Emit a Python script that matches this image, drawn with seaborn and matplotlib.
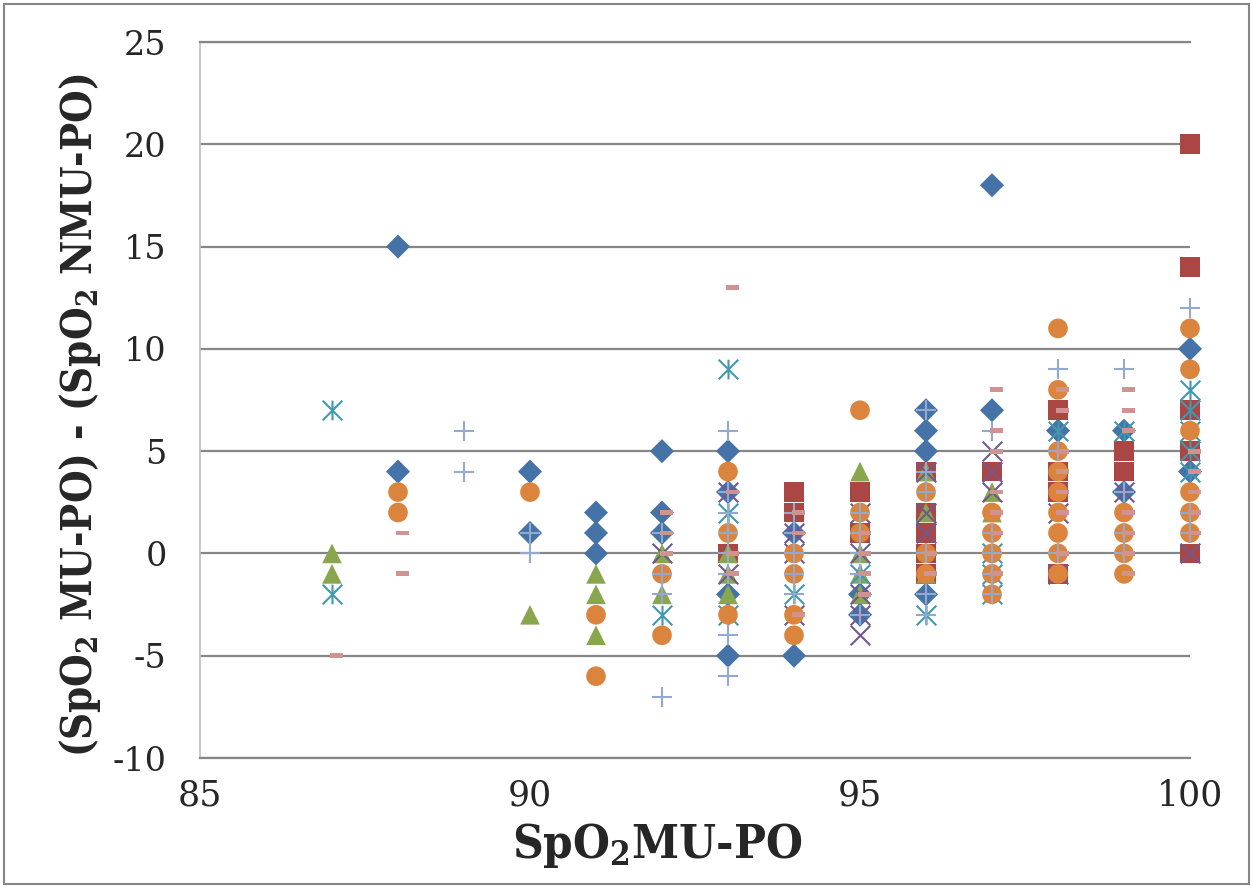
import numpy as np
import pandas as pd
import matplotlib
matplotlib.use("Agg")
import matplotlib.pyplot as plt
from matplotlib.path import Path
from matplotlib.patches import Rectangle
from matplotlib.ticker import MultipleLocator
import seaborn as sns

# Data --------------------------------------------------------------------------------------------
# series 1 - blue diamonds
diamond_x = [88, 88, 90, 90, 91, 91, 91, 92, 92, 92, 93, 93, 93, 93, 94, 94, 95, 95,
             96, 96, 96, 96, 97, 97, 98, 99, 99, 100, 100]
diamond_y = [15, 4, 4, 1, 2, 1, 0, 5, 2, 1, 5, 3, -2, -5, 1, -5, -2, -3,
             7, 6, 5, -2, 18, 7, 6, 6, 3, 10, 4]

# series 2 - red squares
square_x = [93, 94, 94, 95, 95, 96, 96, 96, 96, 96, 97, 98, 98, 98, 98, 99, 99,
            100, 100, 100, 100, 100]
square_y = [0, 3, 2, 3, 1, 4, 2, 1, 0, -1, 4, 7, 4, 3, -1, 5, 4,
            20, 14, 7, 5, 0]

# series 3 - green triangles
triangle_x = [87, 87, 90, 91, 91, 91, 92, 92, 93, 93, 93, 95, 95, 95, 95, 96, 96, 96, 97, 97]
triangle_y = [0, -1, -3, -1, -2, -4, 0, -2, 0, -1, -2, 4, 0, -1, -2, 4, 2, -1, 3, 2]

# series 4 - purple crosses
cross_x = [92, 93, 93, 94, 94, 94, 95, 95, 95, 95, 95, 96, 96, 96, 97, 97, 97, 98, 98, 99, 100]
cross_y = [0, 3, -1, 1, 0, -3, 2, 0, -2, -3, -4, 4, 2, 1, 5, 4, 3, 2, -1, 3, 0]

# series 5 - teal asterisks
star_x = [87, 87, 92, 93, 93, 93, 94, 95, 96, 97, 97, 97, 98, 99, 100, 100, 100, 100, 100]
star_y = [7, -2, -3, 9, 2, -3, -2, -1, -3, 0, -1, -2, 6, 6, 8, 7, 6, 5, 4]

# series 6 - orange circles
circle_x = [88, 88, 90, 91, 91, 92, 92, 93, 93, 93, 94, 94, 94, 94, 95, 95, 95,
            96, 96, 96, 97, 97, 97, 97, 97,
            98, 98, 98, 98, 98, 98, 98, 98, 98,
            99, 99, 99, 99, 100, 100, 100, 100, 100, 100]
circle_y = [3, 2, 3, -3, -6, -1, -4, 4, 1, -3, 0, -1, -3, -4, 7, 2, 1,
            3, 0, -1, 2, 1, 0, -1, -2,
            11, 8, 5, 4, 3, 2, 1, 0, -1,
            2, 1, 0, -1, 11, 9, 6, 3, 2, 1]

# series 7 - light blue plus signs
plus_x = [89, 89, 90, 90, 92, 92, 92, 92,
          93, 93, 93, 93, 93, 93, 93, 93,
          94, 94, 94, 94, 94, 95, 95, 95, 95, 95,
          96, 96, 96, 96, 96, 96, 97, 97, 97, 97, 97,
          98, 98, 98, 99, 99, 99, 99, 100, 100, 100]
plus_y = [6, 4, 1, 0, 1, -1, -2, -7,
          6, 3, 2, 1, 0, -1, -4, -6,
          2, 1, 0, -1, -2, 2, 1, 0, -1, -3,
          7, 4, 3, 0, -2, -3, 6, 1, 0, -1, -2,
          9, 5, 0, 9, 3, 1, 0, 12, 2, 1]

# series 8 - pink dashes
dash_x = [87, 88, 88, 92, 92, 92, 93, 93, 93, 93, 94, 94, 94, 95, 95, 95, 95, 96, 96,
          97, 97, 97, 97, 97, 97, 97, 98, 98, 98, 98, 98, 98, 98,
          99, 99, 99, 99, 99, 99, 99, 100, 100, 100, 100, 100]
dash_y = [-5, 1, -1, 2, 1, 0, 13, 3, 0, -1, 2, 1, -3, 1, 0, -1, -2, 0, -1,
          8, 6, 5, 3, 2, 1, -1, 8, 7, 5, 4, 3, 2, 0,
          8, 7, 6, 2, 1, 0, -1, 5, 4, 3, 2, 1]

# Marker shapes ------------------------------------------------------------------------------------
asterisk = Path([(-0.5, -0.5), (0.5, 0.5), (-0.5, 0.5), (0.5, -0.5), (0, -0.5), (0, 0.5)],
                [Path.MOVETO, Path.LINETO, Path.MOVETO, Path.LINETO, Path.MOVETO, Path.LINETO])
dash = [(-0.075, -0.11), (0.475, -0.11), (0.475, 0.11), (-0.075, 0.11)]

grey = '#868686'
series = [
    (diamond_x, diamond_y, 'D', '#4572A7', 150, 0),
    (square_x, square_y, 's', '#AA4643', 200, 0),
    (triangle_x, triangle_y, '^', '#89A54E', 200, 0),
    (cross_x, cross_y, 'x', '#71588F', 200, 1.5),
    (star_x, star_y, asterisk, '#4198AF', 200, 1.5),
    (circle_x, circle_y, 'o', '#DB843D', 200, 0),
    (plus_x, plus_y, '+', '#93A9CF', 200, 1.5),
    (dash_x, dash_y, dash, '#D19392', 230, 0),
]

sns.set_style('white')
plt.rcParams['font.family'] = ['DejaVu Serif']
plt.rcParams['mathtext.default'] = 'regular'
plt.rcParams['axes.unicode_minus'] = False

fig = plt.figure(figsize=(12.53, 8.88), dpi=100)
ax = fig.add_axes([200 / 1253, 1 - 758 / 888, 990 / 1253, 716 / 888])

for k, (xs, ys, mk, col, size, lw) in enumerate(series):
    df = pd.DataFrame({'x': xs, 'y': ys})
    if lw > 0:
        sns.scatterplot(data=df, x='x', y='y', marker=mk, s=size, color=col, edgecolor=col,
                        linewidth=lw, ax=ax, clip_on=False, zorder=3 + k)
    else:
        sns.scatterplot(data=df, x='x', y='y', marker=mk, s=size, color=col,
                        edgecolor='none', linewidth=0, ax=ax, clip_on=False, zorder=3 + k)

ax.set_xlim(85, 100)
ax.set_ylim(-10, 25)
ax.xaxis.set_major_locator(MultipleLocator(5))
ax.xaxis.set_minor_locator(MultipleLocator(1))
ax.yaxis.set_major_locator(MultipleLocator(5))
ax.tick_params(axis='x', which='both', direction='out', length=7, width=1.2, color=grey,
               labelsize=25, pad=8)
ax.tick_params(axis='y', length=0, labelsize=24, pad=24)
ax.yaxis.grid(True, color=grey, linewidth=1.6)
ax.xaxis.grid(False)
ax.set_axisbelow(True)
ax.spines['right'].set_visible(False)
ax.spines['top'].set_color(grey)
ax.spines['top'].set_linewidth(1.6)
ax.spines['bottom'].set_color(grey)
ax.spines['bottom'].set_linewidth(1.6)
ax.spines['left'].set_color('#BFBFBF')
ax.spines['left'].set_linewidth(1.2)
ax.set_xlabel('')
ax.set_ylabel('')

fig.text(657 / 1253, 1 - 845 / 888, r'SpO$_2$MU-PO', ha='center', va='center',
         fontsize=34, fontweight='bold', fontstretch='condensed')
fig.text(80 / 1253, 1 - 415 / 888, r'(SpO$_2$ MU-PO) - (SpO$_2$ NMU-PO)', ha='center',
         va='center', rotation=90, fontsize=30, fontweight='bold', fontstretch='condensed')

fig.patches.append(Rectangle((4 / 1253, 4 / 888), 1245 / 1253, 880 / 888, transform=fig.transFigure,
                             fill=False, edgecolor=grey, linewidth=1.5))

fig.savefig('out.png', dpi=100)
